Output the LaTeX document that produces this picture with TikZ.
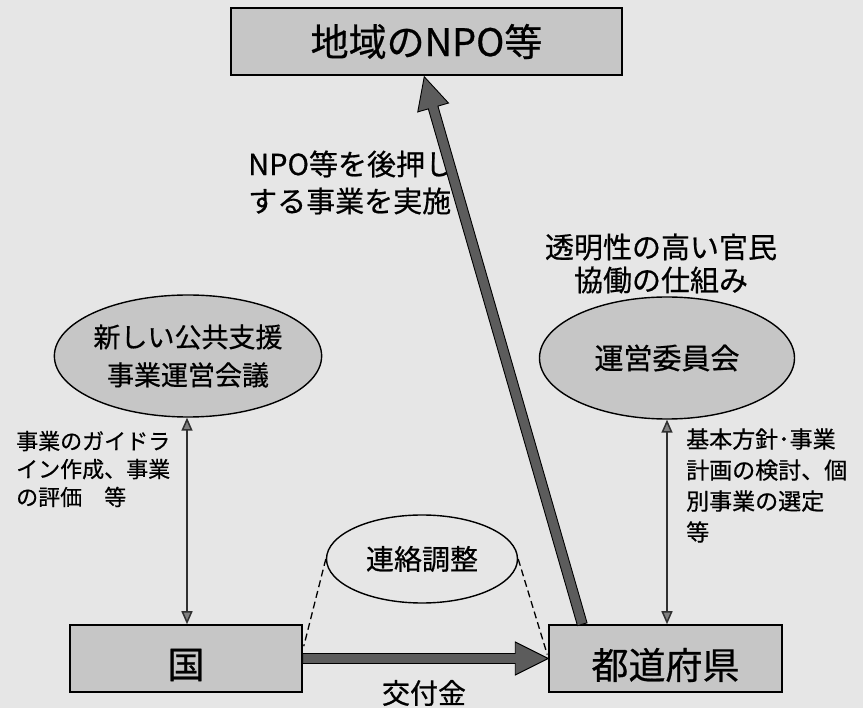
\documentclass[tikz,border=0pt]{standalone}
\usepackage{fontspec}
\setmainfont{Noto Sans CJK JP}[FakeBold=0.6]
\usetikzlibrary{calc,shapes.geometric,arrows.meta}
\definecolor{bgc}{HTML}{E6E6E6}
\definecolor{boxc}{HTML}{C6C6C6}
\definecolor{arrc}{HTML}{5C5C5C}
\definecolor{linec}{HTML}{303030}
\tikzset{
  box/.style={draw=black, line width=1.5pt, fill=boxc, rectangle, inner sep=0pt},
  oval/.style={draw=black, line width=1.4pt, fill=boxc, ellipse, inner sep=0pt, align=center},
  txt/.style={inner sep=0pt, text=black},
  thinarr/.style={draw=linec, line width=1.5pt, {Triangle[length=13pt,width=11pt,fill=gray]}-{Triangle[length=13pt,width=11pt,fill=gray]}},
  dashline/.style={draw=black, line width=1.3pt, dash pattern=on 7pt off 4pt},
  fatarrow/.style={fill=arrc, draw=black, line width=0.9pt, line join=miter}
}
\begin{document}
\begin{tikzpicture}[x=1pt,y=-1pt]
\fill[bgc] (0,0) rectangle (863,708);
\useasboundingbox (0,0) rectangle (863,708);

% boxes
\node[box, minimum width=391pt, minimum height=67pt, font=\fontsize{38}{40}\selectfont] (npo) at (426.5,41.5) {地域のNPO等};
\node[box, minimum width=232pt, minimum height=67pt] (kuni) at (186,658.5) {};
\node[box, minimum width=233pt, minimum height=67pt] (todo) at (665.5,658.5) {};
\node[txt, font=\fontsize{37}{40}\selectfont] (kunit) at (186,665) {国};
\node[txt, font=\fontsize{37}{40}\selectfont] (todot) at (665.5,665) {都道府県};

% ellipses
\node[oval, minimum width=253pt, minimum height=122pt, font=\fontsize{27}{38}\selectfont] (kaigi) at (188,356) {新しい公共支援\\事業運営会議};
\node[oval, minimum width=255pt, minimum height=122pt, font=\fontsize{29}{34}\selectfont] (iinkai) at (667,358) {運営委員会};
\node[oval, fill=none, minimum width=191pt, minimum height=88pt, font=\fontsize{28}{34}\selectfont] (renraku) at (422,559) {連絡調整};

% texts
\node[txt, anchor=west, align=left, font=\fontsize{29}{37}\selectfont] (lbl1) at (248,182.5) {NPO等を後押し\\する事業を実施};
\node[txt, align=center, font=\fontsize{29}{33}\selectfont] (lbl2) at (661,263.5) {透明性の高い官民\\協働の仕組み};
\node[txt, anchor=west, align=left, font=\fontsize{22}{28}\selectfont] (lbl3) at (16,469) {事業のガイドラ\\イン作成、事業\\の評価　等};
\node[txt, anchor=west, align=left, font=\fontsize{23}{31}\selectfont] (lbl4) at (686,485.5) {基本方針･事業\\計画の検討、個\\別事業の選定\\等};
\node[txt, font=\fontsize{28}{32}\selectfont] (lbl5) at (424,693) {交付金};

% thin double arrows
\draw[thinarr] (kaigi.south -| 187,0) -- (kuni.north -| 187,0);
\draw[thinarr] (iinkai.south) -- (iinkai.south |- todo.north);

% dashed lines
\draw[dashline] (renraku.west) -- ($(kuni.north east)+(1,22)$);
\draw[dashline] (renraku.east) -- ($(todo.west)+(-1,-4)$);

% fat diagonal arrow
\coordinate (ds) at ($(todo.north west)+(34,0)$);
\coordinate (dt) at ($(npo.south west)+(194,1)$);
\coordinate (dh) at ($(dt)!32pt!(ds)$);
\path[fatarrow] ($(ds)!5pt!90:(dt)$) -- ($(dh)!5pt!-90:(ds)$) -- ($(dh)!16pt!-90:(ds)$) -- (dt)
  -- ($(dh)!16pt!90:(ds)$) -- ($(dh)!5pt!90:(ds)$) -- ($(ds)!5pt!-90:(dt)$) -- cycle;

% fat horizontal arrow
\coordinate (hs) at (kuni.east);
\coordinate (ht) at (todo.west);
\coordinate (hh) at ($(ht)!33pt!(hs)$);
\path[fatarrow] ($(hs)!5pt!90:(ht)$) -- ($(hh)!5pt!-90:(hs)$) -- ($(hh)!16.5pt!-90:(hs)$) -- (ht)
  -- ($(hh)!16.5pt!90:(hs)$) -- ($(hh)!5pt!90:(hs)$) -- ($(hs)!5pt!-90:(ht)$) -- cycle;
\end{tikzpicture}
\end{document}
